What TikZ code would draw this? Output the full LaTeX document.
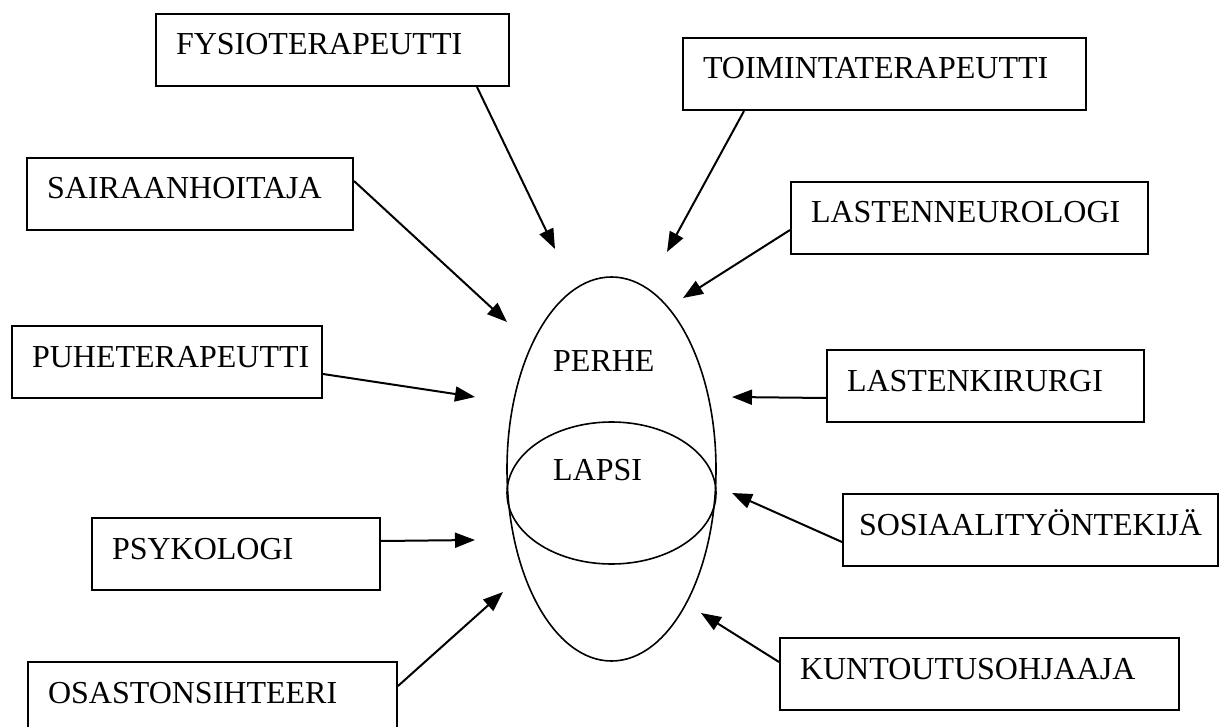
\documentclass[tikz,border=0pt]{standalone}
\usepackage{fontspec}
\setmainfont{Liberation Serif}
\usetikzlibrary{arrows.meta}
\begin{document}
\begin{tikzpicture}[x=1pt, y=-1pt,
    caja/.style={draw, line width=2pt, align=left, inner xsep=20pt, inner ysep=0pt,
        text height=41pt, text depth=31pt, anchor=north west,
        font=\fontsize{32}{36}\selectfont},
    flecha/.style={line width=2pt, -{Triangle[length=20pt, width=15pt]}},
    texto/.style={inner sep=0pt, anchor=base west, font=\fontsize{32}{36}\selectfont}]
    \useasboundingbox (0,0) rectangle (1228,727);

    % Coordenadas de las puntas
    \coordinate (pFys) at (555,249);
    \coordinate (pToi) at (667,252);
    \coordinate (pNeu) at (683,298);
    \coordinate (pSai) at (507,322);
    \coordinate (pPuh) at (475,397);
    \coordinate (pKir) at (732,397);
    \coordinate (pSos) at (732,493);
    \coordinate (pPsy) at (475,540);
    \coordinate (pOsa) at (503,592);
    \coordinate (pKun) at (701,613);

    % Elipses
    \draw[line width=1.6pt] (611.5,469) ellipse [x radius=104.5, y radius=192];
    \draw[line width=1.6pt] (611.5,493) ellipse [x radius=104.5, y radius=71];
    \node[texto] (perhe) at (553,371) {PERHE};
    \node[texto] (lapsi) at (553,480) {LAPSI};

    % Cajas
    \node[caja, text width=313pt] (fys) at (155,13) {FYSIOTERAPEUTTI};
    \node[caja, text width=363pt] (toi) at (682,37) {TOIMINTATERAPEUTTI};
    \node[caja, text width=286pt] (sai) at (26,157) {SAIRAANHOITAJA};
    \node[caja, text width=317pt] (neu) at (790,181) {LASTENNEUROLOGI};
    \node[caja, text width=270pt] (puh) at (11,325) {PUHETERAPEUTTI};
    \node[caja, text width=277pt] (kir) at (826,349) {LASTENKIRURGI};
    \node[caja, text width=248pt] (psy) at (91,517) {PSYKOLOGI};
    \node[caja, text width=343pt, inner xsep=16pt] (sos) at (842,493) {SOSIAALITYÖNTEKIJÄ};
    \node[caja, text width=329pt] (osa) at (27,661) {OSASTONSIHTEERI};
    \node[caja, text width=359pt] (kun) at (779,637) {KUNTOUTUSOHJAAJA};

    % Flechas
    \draw[flecha] ([xshift=-33pt]fys.south east) -- (pFys);
    \draw[flecha] ([xshift=62pt]toi.south west) -- (pToi);
    \draw[flecha] ([yshift=-12pt]neu.west) -- (pNeu);
    \draw[flecha] ([yshift=13pt]sai.east) -- (pSai);
    \draw[flecha] ([yshift=-12pt]puh.east) -- (pPuh);
    \draw[flecha] ([yshift=-12pt]kir.west) -- (pKir);
    \draw[flecha] ([yshift=-12pt]sos.west) -- (pSos);
    \draw[flecha] ([yshift=13pt]psy.east) -- (pPsy);
    \draw[flecha] ([yshift=12pt]osa.east) -- (pOsa);
    \draw[flecha] ([yshift=12pt]kun.west) -- (pKun);
\end{tikzpicture}
\end{document}
